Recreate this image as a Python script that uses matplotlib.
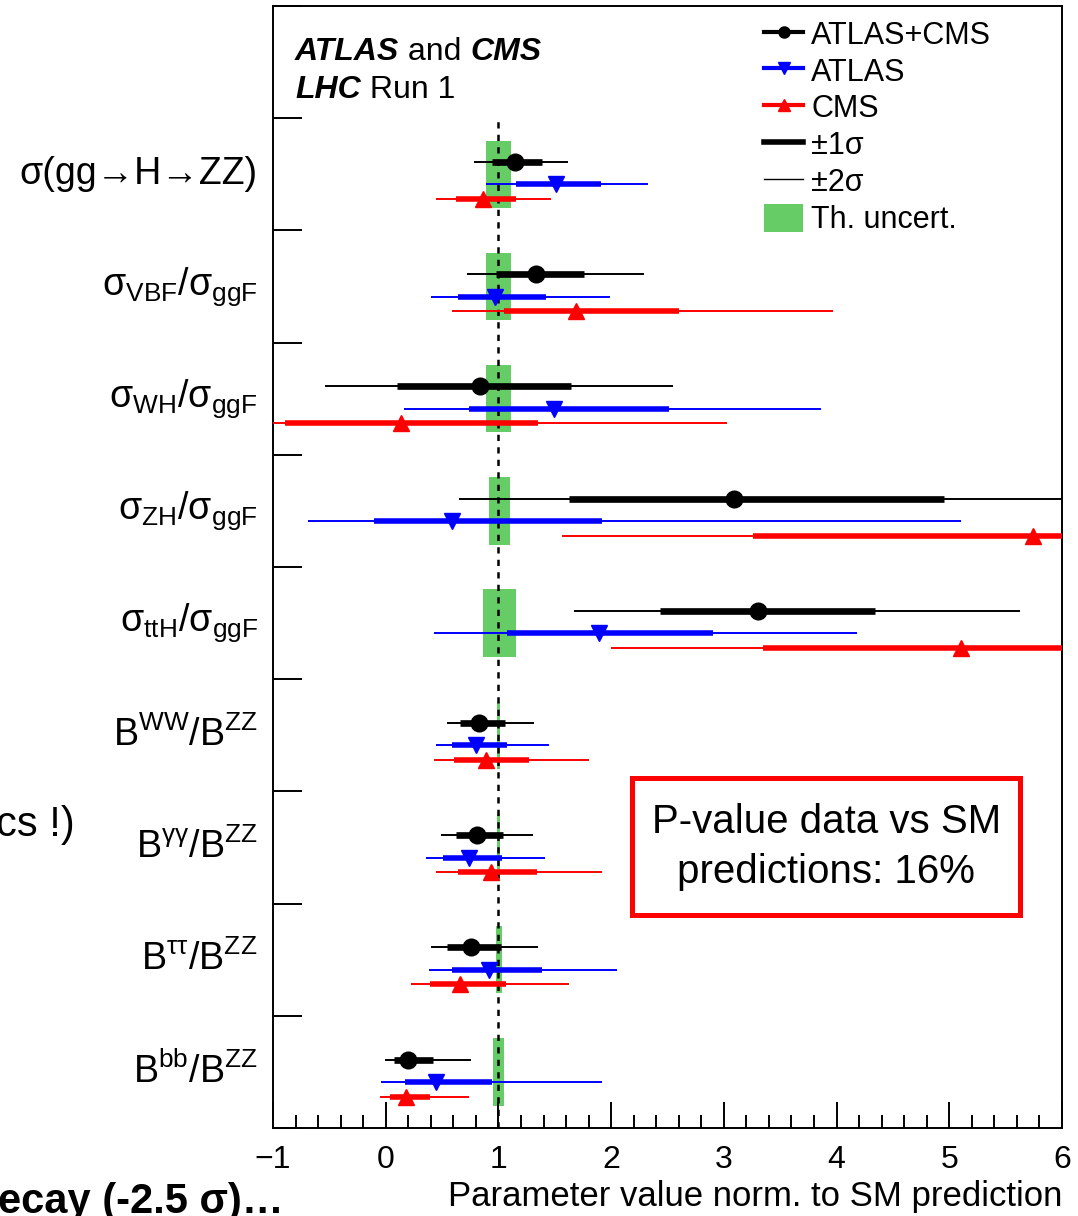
import numpy as np
import matplotlib.pyplot as plt
from matplotlib.lines import Line2D
from matplotlib.patches import Patch, Rectangle
from matplotlib.ticker import MultipleLocator

plt.rcParams['font.family'] = ['Liberation Sans', 'DejaVu Sans']
plt.rcParams['mathtext.fontset'] = 'custom'
plt.rcParams['mathtext.rm'] = 'Liberation Sans'
plt.rcParams['mathtext.it'] = 'Liberation Sans:italic'
plt.rcParams['mathtext.bf'] = 'Liberation Sans:bold'
plt.rcParams['mathtext.fallback'] = 'stixsans'
NARROW = ['Liberation Sans Narrow', 'Liberation Sans', 'DejaVu Sans']

# parameters, top to bottom
labels = ['\u03c3(gg\u2192H\u2192ZZ)',
          r'$\mathrm{\sigma_{VBF}/\sigma_{ggF}}$',
          r'$\mathrm{\sigma_{WH}/\sigma_{ggF}}$',
          r'$\mathrm{\sigma_{ZH}/\sigma_{ggF}}$',
          r'$\mathrm{\sigma_{ttH}/\sigma_{ggF}}$',
          r'$\mathrm{B^{WW}/B^{ZZ}}$',
          r'$\mathrm{B^{\gamma\gamma}/B^{ZZ}}$',
          r'$\mathrm{B^{\tau\tau}/B^{ZZ}}$',
          r'$\mathrm{B^{bb}/B^{ZZ}}$']

# ATLAS+CMS: best fit, 1 sigma (lo, hi), 2 sigma (lo, hi)
comb_val = [1.15, 1.33, 0.84, 3.09, 3.30, 0.83, 0.81, 0.76, 0.20]
comb_1s = [(0.94, 1.39), (0.98, 1.76), (0.10, 1.64), (1.63, 4.95), (2.43, 4.34),
           (0.66, 1.06), (0.62, 1.04), (0.54, 1.02), (0.07, 0.42)]
comb_2s = [(0.78, 1.62), (0.72, 2.29), (-0.54, 2.55), (0.65, 6.60), (1.67, 5.63),
           (0.54, 1.32), (0.49, 1.31), (0.40, 1.35), (-0.01, 0.76)]

# ATLAS
atlas_val = [1.51, 0.97, 1.49, 0.59, 1.89, 0.80, 0.74, 0.92, 0.45]
atlas_1s = [(1.16, 1.91), (0.64, 1.42), (0.74, 2.51), (-0.10, 1.92), (1.08, 2.90),
            (0.59, 1.08), (0.51, 1.03), (0.59, 1.39), (0.17, 0.94)]
atlas_2s = [(0.89, 2.33), (0.40, 1.99), (0.16, 3.86), (-0.69, 5.10), (0.43, 4.18),
            (0.45, 1.45), (0.36, 1.41), (0.38, 2.05), (-0.04, 1.92)]

# CMS
cms_val = [0.86, 1.69, 0.14, 5.74, 5.10, 0.89, 0.93, 0.66, 0.18]
cms_1s = [(0.62, 1.16), (1.05, 2.60), (-0.89, 1.35), (3.26, 7.20), (3.35, 7.00),
          (0.61, 1.27), (0.64, 1.34), (0.39, 1.07), (0.04, 0.39)]
cms_2s = [(0.45, 1.47), (0.59, 3.97), (-1.60, 3.03), (1.56, 8.50), (2.00, 8.30),
          (0.43, 1.80), (0.45, 1.92), (0.22, 1.63), (-0.05, 0.74)]

# theory uncertainty on the SM prediction
theo = [(0.89, 1.11), (0.89, 1.11), (0.89, 1.11), (0.92, 1.10), (0.86, 1.16),
        (0.988, 1.012), (0.988, 1.014), (0.98, 1.03), (0.955, 1.045)]

xticks = [-1, 0, 1, 2, 3, 4, 5, 6]
xticklabels = ['\u22121', '0', '1', '2', '3', '4', '5', '6']

fig = plt.figure(figsize=(10.78, 12.16), dpi=100)
ax = fig.add_axes([273/1078, 1-1128/1216, (1062-273)/1078, (1128-6)/1216])
ax.set_xlim(-1, 6)
ax.set_ylim(0, 10)

n = len(labels)
centers = n - np.arange(n) - 0.5

# green theory bands
tlo = np.array([t[0] for t in theo])
thi = np.array([t[1] for t in theo])
ax.barh(centers, thi - tlo, left=tlo, height=0.6, color='#66cc66', lw=0, zorder=1)

# SM line
ax.vlines(1, 0, 9, colors='k', linestyles=(0, (2.5, 2.5)), lw=1.8, zorder=2)

series = [(comb_val, comb_1s, comb_2s, 'k', 'o', 0.11),
          (atlas_val, atlas_1s, atlas_2s, '#0000ff', 'v', -0.09),
          (cms_val, cms_1s, cms_2s, '#ff0000', '^', -0.22)]
for val, s1, s2, col, mk, off in series:
    y = centers + off
    ax.hlines(y, [a for a, b in s2], [b for a, b in s2], colors=col, lw=1.4, zorder=3)
    ax.hlines(y, [a for a, b in s1], [b for a, b in s1], colors=col,
              lw=4.8 if col == 'k' else 4.0, zorder=4)
    ax.plot(val, y, mk, color=col, ms=12, zorder=5)

# axes cosmetics
for sp in ax.spines.values():
    sp.set_linewidth(1.4)
ax.set_yticks(range(0, 11))
ax.set_yticklabels([])
ax.tick_params(axis='y', direction='in', length=21, width=1.4, left=True, right=False)
ax.set_xticks(xticks)
ax.set_xticklabels(xticklabels, fontsize=23, family=NARROW)
ax.xaxis.set_minor_locator(MultipleLocator(0.2))
ax.tick_params(axis='x', which='major', direction='in', length=19, width=1.4, pad=12)
ax.tick_params(axis='x', which='minor', direction='in', length=9.5, width=1.4)
ax.set_xlabel('Parameter value norm. to SM prediction', loc='right', fontsize=25,
              family=NARROW, labelpad=4)

# row labels
for c, lab in zip(centers, labels):
    ax.annotate(lab, xy=(0, c), xycoords=('axes fraction', 'data'), xytext=(-11, 0),
                textcoords='offset points', ha='right', va='center', fontsize=27)

# experiment label
t1 = ax.text(0.028, 0.946, 'ATLAS', transform=ax.transAxes, fontsize=23,
             fontweight='bold', fontstyle='italic', va='bottom')
t2 = ax.annotate(' and ', xy=(1, 0), xycoords=t1, fontsize=23, va='bottom')
ax.annotate('CMS', xy=(1, 0), xycoords=t2, fontsize=23, fontweight='bold',
            fontstyle='italic', va='bottom')
t4 = ax.text(0.028, 0.912, 'LHC', transform=ax.transAxes, fontsize=23,
             fontweight='bold', fontstyle='italic', va='bottom')
ax.annotate(' Run 1', xy=(1, 0), xycoords=t4, fontsize=23, va='bottom')

# legend
handles = [Line2D([], [], color='k', lw=3, marker='o', ms=8),
           Line2D([], [], color='#0000ff', lw=3, marker='v', ms=8),
           Line2D([], [], color='#ff0000', lw=3, marker='^', ms=8),
           Line2D([], [], color='k', lw=4),
           Line2D([], [], color='k', lw=1),
           Patch(color='#66cc66', lw=0)]
names = ['ATLAS+CMS', 'ATLAS', 'CMS', '\u00b11\u03c3', '\u00b12\u03c3', 'Th. uncert.']
ax.legend(handles, names, loc='upper left', bbox_to_anchor=(0.622, 0.988), frameon=False,
          fontsize=22, handlelength=1.3, handletextpad=0.25, labelspacing=0.19,
          handleheight=1.0, borderpad=0, borderaxespad=0)

# p-value box
ax.add_patch(Rectangle((0.455, 0.1897), 0.492, 0.1221, transform=ax.transAxes,
                       fc='white', ec='#ff0000', lw=3.6, zorder=6))
ax.text(0.701, 0.2508, 'P-value data vs SM\npredictions: 16%', transform=ax.transAxes,
        ha='center', va='center', fontsize=29, family=NARROW, linespacing=1.4, zorder=7)

# slide text around the plot
fig.text(75/1078, 1-836/1216, 'cs !)', ha='right', va='baseline', fontsize=30,
         family=NARROW)
fig.text(284/1078, 3/1216, 'ecay (-2.5 \u03c3)\u2026', ha='right', va='baseline',
         fontsize=30, fontweight='bold', family=NARROW)

fig.savefig('out.png', dpi=100)
